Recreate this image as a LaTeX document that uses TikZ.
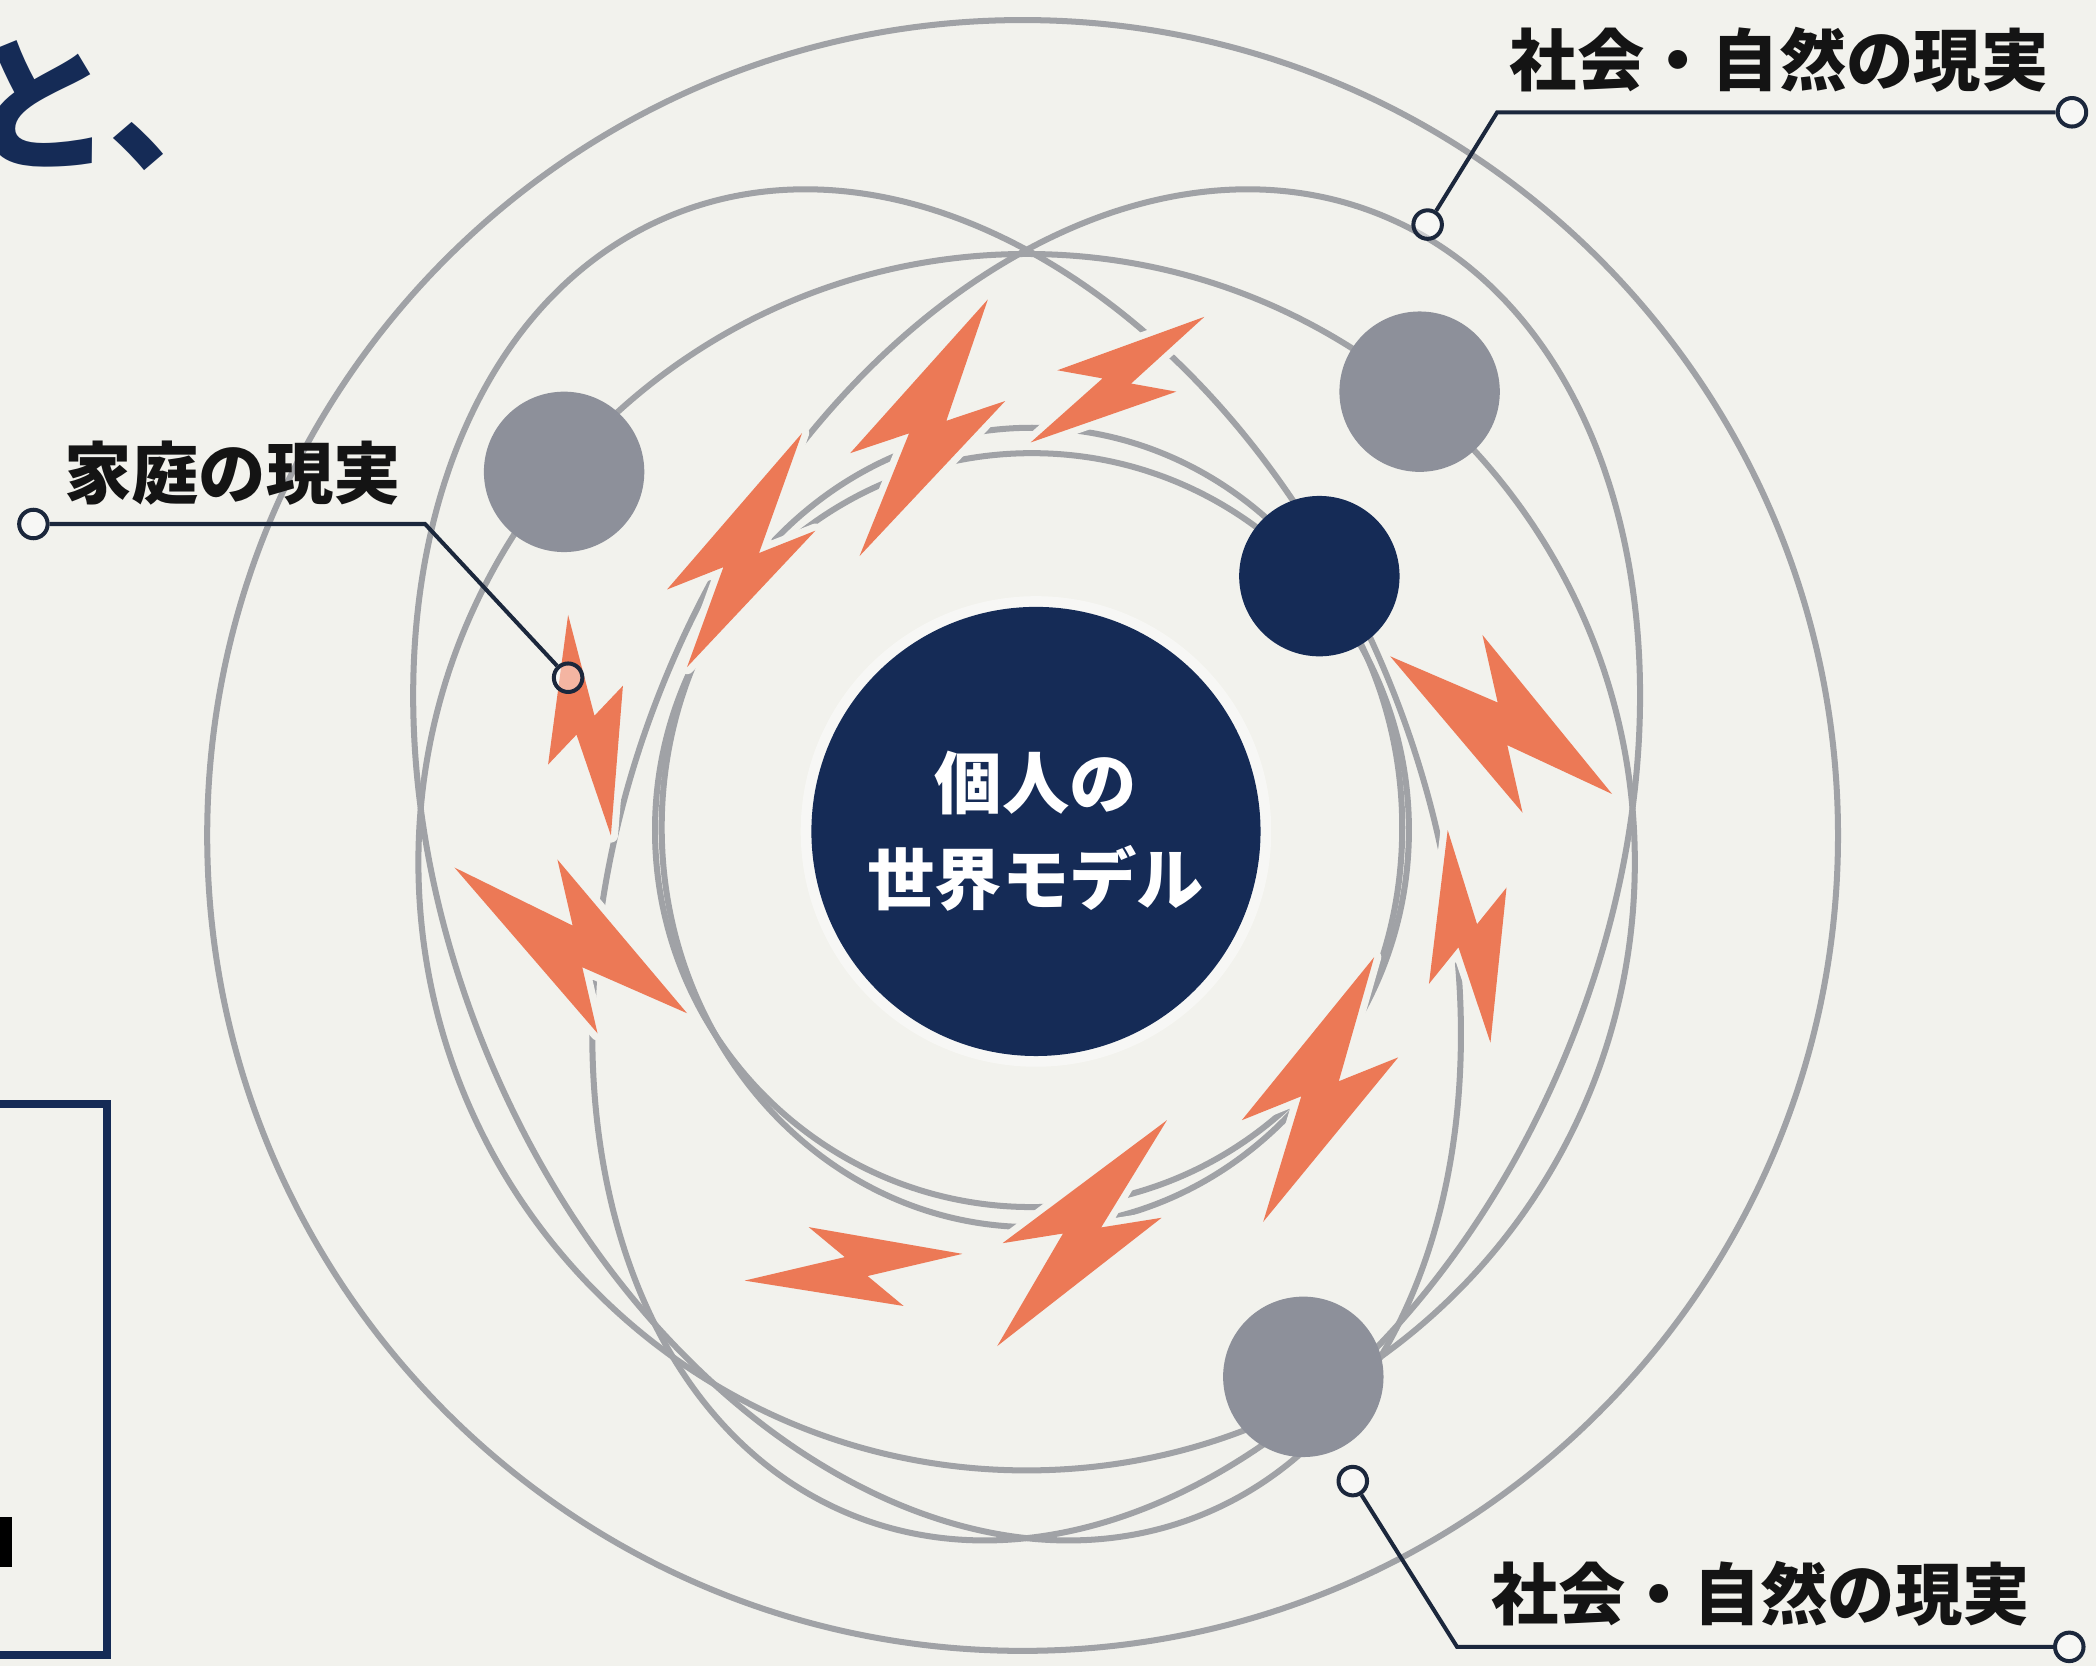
\documentclass[tikz,border=0pt]{standalone}
\usepackage{fontspec}
\newfontfamily\jpfont{Noto Sans CJK JP}
\usepackage{xcolor}
\usepackage{tikz}
\usetikzlibrary{calc,positioning}
\definecolor{paper}{RGB}{242,242,237}
\definecolor{navy}{RGB}{21,43,86}
\definecolor{orbitgray}{RGB}{160,162,166}
\definecolor{planetgray}{RGB}{141,144,154}
\definecolor{boltorange}{RGB}{236,121,86}
\definecolor{leaderedge}{RGB}{27,39,60}
\definecolor{inktext}{RGB}{20,20,20}
\tikzset{
    orbit/.style={draw=orbitgray, line width=1.35mm},
    planet/.style={circle, fill=planetgray, minimum size=36mm, inner sep=0pt},
    darkplanet/.style={planet, fill=navy},
    core/.style={circle, fill=navy, minimum size=100.8mm, inner sep=0pt,
        text=white, align=center, font=\jpfont\bfseries\fontsize{43}{61}\selectfont},
    boltshape/.style={fill=boltorange,
        preaction={draw=paper, line width=3.2mm, line join=round}},
    tagdot/.style={circle, draw=leaderedge, line width=0.9mm, fill=white,
        fill opacity=0.45, minimum size=6.4mm, inner sep=0pt},
    leader/.style={draw=leaderedge, line width=0.9mm},
    tagtext/.style={text=inktext, inner sep=0pt,
        font=\jpfont\bfseries\fontsize{43}{50}\selectfont},
    frame/.style={draw=navy, line width=1.7mm}
}
% one lightning bolt: tip, corner, tip, corner
\newcommand{\drawbolt}[4]{%
    \path[boltshape] (#1) -- (#2) -- ($(#2)!0.38!(#4)$) -- (#3) -- (#4)
        -- ($(#4)!0.38!(#2)$) -- cycle;%
}

\begin{document}
\begin{tikzpicture}[x=0.3mm, y=-0.3mm]
    \useasboundingbox (0,0) rectangle (1568,1246);
    \clip (0,0) rectangle (1568,1246);
    \fill[paper] (0,0) rectangle (1568,1246);

    % orbits
    \draw[orbit] (765,625) circle [radius=610];
    \draw[orbit] (768,645) circle [radius=455];
    \draw[orbit, rotate around={67.8:(835,647)}] (835,647) ellipse [x radius=525, y radius=365];
    \draw[orbit, rotate around={-67.8:(701,647)}] (701,647) ellipse [x radius=525, y radius=365];
    % inner double ring
    \draw[orbit] (772,621) circle [radius=282];
    \draw[orbit] (772,619) ellipse [x radius=277, y radius=299];

    % centre and planets
    \fill[white, opacity=0.45] (775,622) circle [radius=176];
    \node[core] (core) at (775,622) {個人の\\世界モデル};
    \node[planet] (famplanet) at (422,353) {};
    \node[planet] (socplanet) at (1062,293) {};
    \node[planet] (natplanet) at (975,1030) {};
    \node[darkplanet] (selfplanet) at (987,431) {};

    % friction
    \drawbolt{739,224}{636,339}{643,416}{752,300}
    \drawbolt{600,324}{499,441}{514,499}{610,397}
    \drawbolt{425,460}{410,572}{457,625}{466,513}
    \drawbolt{901,237}{791,277}{771,331}{880,293}
    \drawbolt{340,649}{447,773}{514,758}{417,643}
    \drawbolt{720,938}{605,918}{557,958}{676,977}
    \drawbolt{873,838}{750,930}{746,1007}{869,911}
    \drawbolt{1028,716}{929,838}{945,914}{1046,791}
    \drawbolt{1083,621}{1069,736}{1115,780}{1127,664}
    \drawbolt{1040,491}{1139,608}{1206,594}{1109,475}

    % callouts
    \node[tagdot] (famtag) at (25,392) {};
    \node[tagdot] (famend) at (425,507) {};
    \coordinate (famknee) at (318,392);
    \draw[leader] (famtag) -- (famknee) -- (famend);
    \node[tagtext] (famlabel) at (174,354) {家庭の現実};

    \node[tagdot] (soctag) at (1550,84) {};
    \node[tagdot] (socend) at (1068,168) {};
    \coordinate (socknee) at (1120,84);
    \draw[leader] (soctag) -- (socknee) -- (socend);
    \node[tagtext] (soclabel) at (1331,45) {社会・自然の現実};

    \node[tagdot] (nattag) at (1548,1232) {};
    \node[tagdot] (natend) at (1012,1108) {};
    \coordinate (natknee) at (1090,1232);
    \draw[leader] (natend) -- (natknee) -- (nattag);
    \node[tagtext] (natlabel) at (1317,1192) {社会・自然の現実};

    % page furniture cut by the frame
    \node[text=navy, inner sep=0pt, anchor=base west,
        font=\jpfont\bfseries\fontsize{94}{94}\selectfont] (titletail) at (-25,119) {と、};
    \draw[frame] (-20,826) rectangle (80,1238);
    \fill[black] (-4,1135) rectangle (9,1172);
\end{tikzpicture}
\end{document}
